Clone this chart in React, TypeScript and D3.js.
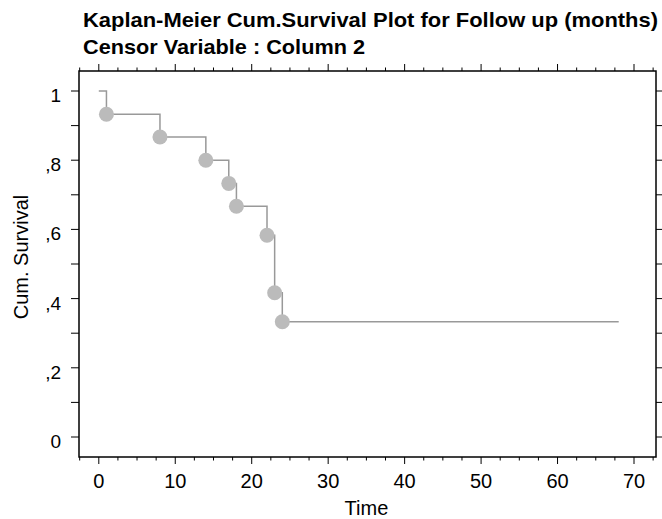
import { useEffect, useRef } from 'react';
import * as d3 from 'd3';

const W = 662;
const H = 519;

// Kaplan-Meier estimate
const times = [0, 1, 8, 14, 17, 18, 22, 23, 24, 68];
const survival = [1, 0.933, 0.867, 0.8, 0.733, 0.667, 0.583, 0.417, 0.333, 0.333];
// event points (markers), indexes into the arrays above
const eventIdx = [1, 2, 3, 4, 5, 6, 7, 8];

const xTicks = [0, 10, 20, 30, 40, 50, 60, 70];
const xMinor = d3.range(-2.5, 73, 2.5);
const yTicks = [0, 0.2, 0.4, 0.6, 0.8, 1];
const yMinor = d3.range(0, 1.01, 0.1);
const yLabels = ['0', ',2', ',4', ',6', ',8', '1'];

const frame = { left: 79, right: 656, top: 71, bottom: 457 };

export default function App() {
  const ref = useRef<SVGSVGElement>(null);

  useEffect(() => {
    const svg = d3.select(ref.current);
    svg.selectAll('*').remove();
    const font = 'Liberation Sans, Arial, Helvetica, sans-serif';

    const x = d3.scaleLinear().domain([0, 70]).range([98.8, 634]);
    const y = d3.scaleLinear().domain([0, 1]).range([437, 91]);

    svg.append('text')
      .attr('x', 83).attr('y', 27)
      .attr('font-family', font).attr('font-size', 21).attr('font-weight', 'bold')
      .attr('textLength', 575).attr('lengthAdjust', 'spacingAndGlyphs')
      .text('Kaplan-Meier Cum.Survival Plot for Follow up (months)');
    svg.append('text')
      .attr('x', 83).attr('y', 54)
      .attr('font-family', font).attr('font-size', 21).attr('font-weight', 'bold')
      .attr('textLength', 282).attr('lengthAdjust', 'spacingAndGlyphs')
      .text('Censor Variable : Column 2');

    const g = svg.append('g');

    g.append('rect')
      .attr('x', frame.left).attr('y', frame.top)
      .attr('width', frame.right - frame.left).attr('height', frame.bottom - frame.top)
      .attr('fill', 'none').attr('stroke', '#000').attr('stroke-width', 1.5);

    const isMajorX = (v: number) => Math.abs(v % 10) < 1e-6;
    // x ticks top and bottom
    xMinor.forEach((v) => {
      const len = isMajorX(v) ? 7 : 3.5;
      g.append('line').attr('x1', x(v)).attr('x2', x(v))
        .attr('y1', frame.bottom).attr('y2', frame.bottom + len)
        .attr('stroke', '#000').attr('stroke-width', 1);
      g.append('line').attr('x1', x(v)).attr('x2', x(v))
        .attr('y1', frame.top).attr('y2', frame.top - len)
        .attr('stroke', '#000').attr('stroke-width', 1);
    });
    yMinor.forEach((v) => {
      g.append('line').attr('x1', frame.left).attr('x2', frame.left - 8)
        .attr('y1', y(v)).attr('y2', y(v))
        .attr('stroke', '#000').attr('stroke-width', 1);
      g.append('line').attr('x1', frame.right).attr('x2', frame.right + 7)
        .attr('y1', y(v)).attr('y2', y(v))
        .attr('stroke', '#000').attr('stroke-width', 1);
    });

    xTicks.forEach((v) => {
      g.append('text').attr('x', x(v)).attr('y', 488)
        .attr('text-anchor', 'middle')
        .attr('font-family', font).attr('font-size', 20)
        .text(String(v));
    });
    yTicks.forEach((v, i) => {
      g.append('text').attr('x', 61).attr('y', y(v) + 11)
        .attr('text-anchor', 'end')
        .attr('font-family', font).attr('font-size', 19)
        .text(yLabels[i]);
    });

    g.append('text').attr('x', x(35)).attr('y', 515)
      .attr('text-anchor', 'middle')
      .attr('font-family', font).attr('font-size', 20)
      .text('Time');
    g.append('text')
      .attr('transform', `translate(28,257) rotate(-90)`)
      .attr('text-anchor', 'middle')
      .attr('font-family', font).attr('font-size', 20)
      .text('Cum. Survival');

    const pts = times.map((t, i) => [t, survival[i]] as [number, number]);
    const line = d3.line<[number, number]>()
      .x((d) => x(d[0])).y((d) => y(d[1]))
      .curve(d3.curveStepAfter);
    g.append('path').attr('d', line(pts))
      .attr('fill', 'none').attr('stroke', '#999').attr('stroke-width', 1.5);

    g.selectAll('circle.ev').data(eventIdx).enter().append('circle')
      .attr('cx', (i) => x(times[i])).attr('cy', (i) => y(survival[i]))
      .attr('r', 7.5).attr('fill', '#bbb');
  }, []);

  return <svg ref={ref} width={W} height={H} style={{ display: 'block', position: 'absolute', left: 0, top: 0 }} />;
}
